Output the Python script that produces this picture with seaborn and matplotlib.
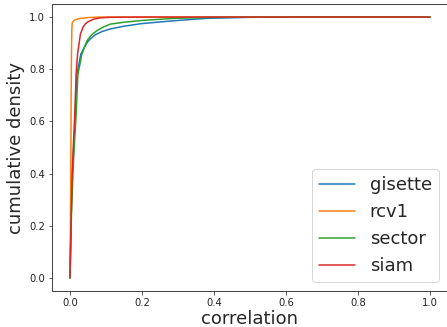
import numpy as np
import pandas as pd
import matplotlib
matplotlib.use("Agg")
import matplotlib.pyplot as plt
import seaborn as sns

names = ["gisette", "rcv1", "sector", "siam"]

gisette_x = [0, 0.004, 0.008, 0.012, 0.014, 0.019, 0.030, 0.040, 0.049, 0.058, 0.070, 0.09, 0.111, 0.15, 0.20, 0.29, 0.38, 0.5, 0.7, 1.0]
gisette_y = [0, 0.28, 0.44, 0.55, 0.60, 0.78, 0.858, 0.885, 0.905, 0.918, 0.932, 0.945, 0.954, 0.965, 0.975, 0.986, 0.995, 0.999, 1.0, 1.0]

rcv1_x = [0, 0.002, 0.003, 0.004, 0.005, 0.006, 0.008, 0.012, 0.02, 0.03, 0.05, 0.08, 1.0]
rcv1_y = [0, 0.35, 0.65, 0.85, 0.95, 0.975, 0.983, 0.988, 0.992, 0.995, 0.998, 1.0, 1.0]

sector_x = [0, 0.004, 0.008, 0.012, 0.016, 0.022, 0.033, 0.047, 0.06, 0.075, 0.09, 0.112, 0.15, 0.20, 0.29, 0.4, 0.6, 1.0]
sector_y = [0, 0.24, 0.40, 0.51, 0.60, 0.78, 0.858, 0.909, 0.932, 0.948, 0.96, 0.973, 0.98, 0.987, 0.995, 0.999, 1.0, 1.0]

siam_x = [0, 0.003, 0.006, 0.010, 0.013, 0.017, 0.021, 0.029, 0.036, 0.042, 0.05, 0.066, 0.085, 0.11, 0.2, 1.0]
siam_y = [0, 0.22, 0.40, 0.53, 0.62, 0.781, 0.858, 0.935, 0.96, 0.973, 0.982, 0.992, 0.997, 0.999, 1.0, 1.0]

series = {
    "gisette": (gisette_x, gisette_y),
    "rcv1": (rcv1_x, rcv1_y),
    "sector": (sector_x, sector_y),
    "siam": (siam_x, siam_y),
}

rows = []
for name in names:
    xs, ys = series[name]
    for x, y in zip(xs, ys):
        rows.append({"dataset": name, "correlation": x, "cumulative density": y})
df = pd.DataFrame(rows)

sns.set_style("white")
plt.rcParams["font.family"] = ["DejaVu Sans"]

DPI = 72
fig = plt.figure(figsize=(447 / DPI, 327 / DPI), dpi=DPI)
ax = fig.add_axes([52 / 447, 36 / 327, 396 / 447, 287 / 327])

sns.lineplot(data=df, x="correlation", y="cumulative density", hue="dataset",
             hue_order=names, palette=sns.color_palette("tab10", 4),
             estimator=None, sort=False, units="dataset", linewidth=1.5, ax=ax)

ax.set_xlim(-0.05, 1.05)
ax.set_ylim(-0.05, 1.05)
ax.set_xticks([0.0, 0.2, 0.4, 0.6, 0.8, 1.0])
ax.set_yticks([0.0, 0.2, 0.4, 0.6, 0.8, 1.0])
ax.tick_params(axis="both", labelsize=10, length=3.5, width=0.8, left=True, bottom=True,
               colors="#333333", labelcolor="#222222")
for s in ax.spines.values():
    s.set_color("#444444")
    s.set_linewidth(1.0)
ax.set_xlabel("correlation", fontsize=18, labelpad=2)
ax.set_ylabel("cumulative density", fontsize=18)
ax.legend(loc="lower right", fontsize=18, title=None)
ax.get_legend().get_frame().set_edgecolor("#cccccc")

fig.savefig("out.png", dpi=DPI)
